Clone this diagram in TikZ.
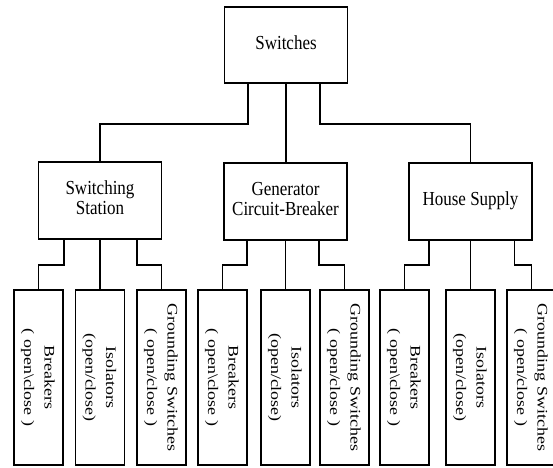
\documentclass[tikz,border=0pt]{standalone}
\usepackage{fontspec}
\setmainfont{Liberation Serif}
\usepackage{graphicx}
\newcommand{\hlab}[1]{\scalebox{1}[1.17]{\fontsize{17}{16.5}\selectfont\begin{tabular}{@{}c@{}}#1\end{tabular}}}
\newcommand{\vlab}[1]{\scalebox{1}[1.23]{\rotatebox{-90}{\fontsize{14.6}{20.7}\selectfont\begin{tabular}{@{}c@{}}#1\end{tabular}}}}
\newcommand{\ocb}{(\hspace{.25em}open\textbackslash close\hspace{.25em})}
\newcommand{\ocs}{(\hspace{.25em}open/close\hspace{.25em})}
\begin{document}
\begin{tikzpicture}[x=1pt,y=-1pt,
  box/.style={draw,line width=1.8pt,inner sep=0pt,rectangle},
  topbox/.style={box,minimum width=123pt,minimum height=76pt},
  midbox/.style={box,minimum width=123pt,minimum height=77pt},
  leafbox/.style={box,minimum width=49pt,minimum height=175pt},
  wire/.style={line width=1.8pt}]
\useasboundingbox (0,0) rectangle (553,467);
\clip (0,0) rectangle (553,467);
% top
\node[topbox] (top) at (286,45) {\hlab{Switches}};
% middle
\node[midbox] (ss)  at (100,200.5)   {\hlab{Switching\\Station}};
\node[midbox] (gen) at (285.5,201.5) {\hlab{Generator\\Circuit-Breaker}};
\node[midbox] (hs)  at (470.5,201.5) {\hlab{House Supply}};
% leaves group 1
\node[leafbox] (b1) at (38.5,377.5)  {\vlab{Breakers\\\ocb}};
\node[leafbox] (i1) at (100,377.5)   {\vlab{Isolators\\(open/close)}};
\node[leafbox] (g1) at (161.5,377.5) {\vlab{Grounding Switches\\\ocs}};
% leaves group 2
\node[leafbox] (b2) at (222.5,377.5) {\vlab{Breakers\\\ocb}};
\node[leafbox] (i2) at (285.5,377.5) {\vlab{Isolators\\(open/close)}};
\node[leafbox] (g2) at (344.5,377.5) {\vlab{Grounding Switches\\\ocs}};
% leaves group 3
\node[leafbox] (b3) at (404.5,377.5) {\vlab{Breakers\\\ocb}};
\node[leafbox] (i3) at (470.5,377.5) {\vlab{Isolators\\(open/close)}};
\node[leafbox] (g3) at (531.5,377.5) {\vlab{Grounding Switches\\\ocs}};
% top connectors
\draw[wire] ([xshift=-38pt]top.south) -- ++(0,40) -| (ss.north);
\draw[wire] (top.south) -- (gen.north -| top.south);
\draw[wire] ([xshift=34pt]top.south) -- ++(0,40) -| (hs.north);
% group 1 connectors
\draw[wire] ([xshift=-36pt]ss.south) -- ++(0,25) -| (b1.north);
\draw[wire] (i1.north) -- (i1.north |- ss.south);
\draw[wire] ([xshift=37pt]ss.south) -- ++(0,25) -| (g1.north);
% group 2 connectors
\draw[wire] ([xshift=-38.5pt]gen.south) -- ++(0,24) -| (b2.north);
\draw[wire] (i2.north) -- (i2.north |- gen.south);
\draw[wire] ([xshift=33.5pt]gen.south) -- ++(0,24) -| (g2.north);
% group 3 connectors
\draw[wire] ([xshift=-41.5pt]hs.south) -- ++(0,24) -| (b3.north);
\draw[wire] (i3.north) -- (i3.north |- hs.south);
\draw[wire] ([xshift=44pt]hs.south) -- ++(0,24) -| (g3.north);
\end{tikzpicture}
\end{document}
